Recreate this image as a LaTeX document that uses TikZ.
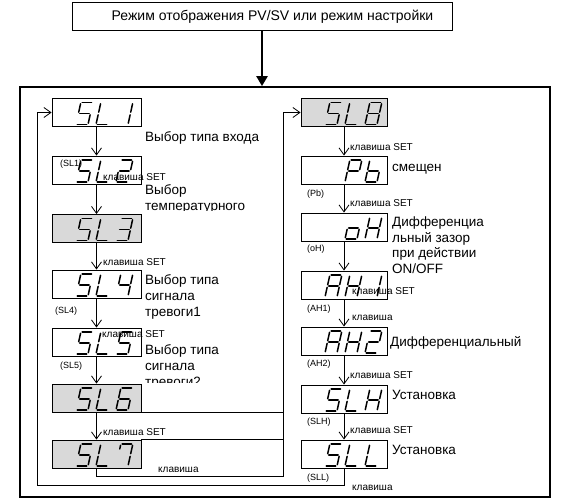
\documentclass[tikz,border=0pt]{standalone}
\usepackage{fontspec}
\setmainfont{Liberation Sans}
\usetikzlibrary{arrows.meta}
\tikzset{
 dispbox/.style={draw, line width=0.9pt, minimum width=89pt, minimum height=28pt, inner sep=0pt},
 rbox/.style={dispbox, minimum width=86pt},
 grey/.style={fill=gray!30},
 segline/.style={line width=1.5pt, line cap=round},
 big/.style={font=\fontsize{13.5}{15}\selectfont, inner sep=0pt, anchor=base west},
 keylbl/.style={font=\fontsize{10}{11}\selectfont, inner sep=0pt, anchor=base west},
 tag/.style={font=\fontsize{9}{10}\selectfont, inner sep=0pt, anchor=base west},
 arr/.style={line width=0.8pt, -{Straight Barb[length=7pt,width=10pt]}},
 conn/.style={line width=0.8pt},
}
\def\cS{a,f,g,c,d}
\def\cL{f,e,d}
\def\cOne{b,c}
\def\cTwo{a,b,g,e,d}
\def\cThree{a,b,g,c,d}
\def\cFour{f,g,b,c}
\def\cFive{a,f,g,c,d}
\def\cSix{a,f,g,e,d,c}
\def\cSeven{a,b,c,t}
\def\cEight{a,b,c,d,e,f,g}
\def\cP{a,b,f,g,e}
\def\cb{f,e,d,c,g}
\def\co{g,c,d,e}
\def\cH{f,e,b,c,g}
\def\cA{a,b,c,e,f,g}
\def\cN{x}
\newcommand\glyph[3]{\begin{scope}[shift={({#1},{#2})},xslant=0.22]
 \foreach \s in #3{%
 \if a\s \draw[segline] (1.3,-22) -- (10.7,-22);\fi
 \if b\s \draw[segline] (12,-20.7) -- (12,-12.3);\fi
 \if c\s \draw[segline] (12,-9.7) -- (12,-1.3);\fi
 \if d\s \draw[segline] (1.3,0) -- (10.7,0);\fi
 \if e\s \draw[segline] (0,-1.3) -- (0,-9.7);\fi
 \if f\s \draw[segline] (0,-12.3) -- (0,-20.7);\fi
 \if g\s \draw[segline] (1.3,-11) -- (10.7,-11);\fi
 \if t\s \draw[segline] (0,-17) -- (0,-20.7);\fi
 }\end{scope}}
\newcommand\dsp[5]{\glyph{#1+24}{#2}{#3}\glyph{#1+44}{#2}{#4}\glyph{#1+64}{#2}{#5}}
\begin{document}
\begin{tikzpicture}[x=1pt,y=-1pt]
\useasboundingbox (0,0) rectangle (567,500);
% top box and main arrow
\node[draw, line width=1pt, minimum width=380pt, minimum height=28pt, inner sep=0pt] (top) at (262,17) {};
\node[font=\fontsize{14}{16}\selectfont, inner sep=0pt] (toptxt) at (272.5,17) {Режим отображения PV/SV или режим настройки};
\node[draw, line width=1.8pt, minimum width=530pt, minimum height=410pt, inner sep=0pt] (outer) at (285,292) {};
\draw[line width=2.5pt, -{Triangle[length=10pt,width=11pt]}] (top.south) -- (top.south |- outer.north);
% left column boxes
\node[dispbox] (sl1) at (96.5,112.5) {};
\node[dispbox] (sl2) at (96.5,170) {};
\node[dispbox,grey] (sl3) at (96.5,228.5) {};
\node[dispbox] (sl4) at (96.5,284) {};
\node[dispbox] (sl5) at (96.5,342) {};
\node[dispbox,grey] (sl6) at (96.5,398) {};
\node[dispbox,grey] (sl7) at (96.5,454) {};
% right column boxes
\node[rbox,grey] (sl8) at (344,112.5) {};
\node[rbox] (pb) at (344,170) {};
\node[rbox] (oh) at (344,227) {};
\node[rbox] (ah1) at (344,285) {};
\node[rbox] (ah2) at (344,341) {};
\node[rbox] (slh) at (344,399) {};
\node[rbox] (sll) at (344,454) {};
% glyphs
\dsp{52}{124.5}{\cS}{\cL}{\cOne}
\dsp{52}{182}{\cS}{\cL}{\cTwo}
\dsp{52}{240.5}{\cS}{\cL}{\cThree}
\dsp{52}{296}{\cS}{\cL}{\cFour}
\dsp{52}{354}{\cS}{\cL}{\cFive}
\dsp{52}{410}{\cS}{\cL}{\cSix}
\dsp{52}{466}{\cS}{\cL}{\cSeven}
\dsp{301}{124.5}{\cS}{\cL}{\cEight}
\dsp{301}{182}{\cN}{\cP}{\cb}
\dsp{301}{239}{\cN}{\co}{\cH}
\dsp{301}{297}{\cA}{\cH}{\cOne}
\dsp{301}{353}{\cA}{\cH}{\cTwo}
\dsp{301}{411}{\cS}{\cL}{\cH}
\dsp{301}{466}{\cS}{\cL}{\cL}
% down arrows
\draw[arr] (sl1) -- (sl2);
\draw[arr] (sl2) -- (sl3);
\draw[arr] (sl3) -- (sl4);
\draw[arr] (sl4) -- (sl5);
\draw[arr] (sl5) -- (sl6);
\draw[arr] (sl6) -- (sl7);
\draw[arr] (sl8) -- (pb);
\draw[arr] (pb) -- (oh);
\draw[arr] (oh) -- (ah1);
\draw[arr] (ah1) -- (ah2);
\draw[arr] (ah2) -- (slh);
\draw[arr] (slh) -- (sll);
% loops
\coordinate (r1) at (283,476);
\coordinate (r2) at (37,485);
\draw[conn] (sl6.south east) -- (sl6.south east -| r1);
\draw[conn] (sl7.north east) -- (sl7.north east -| r1);
\draw[arr] (sl7.south) |- (r1) |- (sl8.west);
\draw[arr] (sll.south) |- (r2) |- (sl1.west);
% left texts
\node[big] (t1) at (145,141.5) {Выбор типа входа};
\node[big] (t2a) at (145,194.5) {Выбор};
\begin{scope}
\clip (140,195) rectangle (300,210);
\node[big] (t2b) at (145,210.5) {температурного};
\end{scope}
\node[big] (t4a) at (145,284.5) {Выбор типа};
\node[big] (t4b) at (145,300.5) {сигнала};
\node[big] (t4c) at (145,316) {тревоги1};
\node[big] (t5a) at (145,354.5) {Выбор типа};
\node[big] (t5b) at (145,370.5) {сигнала};
\begin{scope}
\clip (140,372) rectangle (300,382.5);
\node[big] (t5c) at (145,386.5) {тревоги2};
\end{scope}
% right texts
\node[big] (r8) at (392,171.5) {смещен};
\node[big] (ra) at (392,226.5) {Дифференциа};
\node[big] (rb) at (392,242) {льный зазор};
\node[big] (rc) at (392,257.5) {при действии};
\node[big] (rd) at (392,273) {ON/OFF};
\node[big] (re) at (390,346.5) {Дифференциальный};
\node[big] (rf) at (392,399.5) {Установка};
\node[big] (rg) at (392,454.5) {Установка};
% key labels
\node[keylbl] (k1) at (103,180.5) {клавиша SET};
\node[keylbl] (k2) at (103,265.5) {клавиша SET};
\node[keylbl] (k3) at (102,337.5) {клавиша SET};
\node[keylbl] (k4) at (103,435.5) {клавиша SET};
\node[keylbl] (k5) at (158,472.5) {клавиша};
\node[keylbl] (k6) at (350,150.5) {клавиша SET};
\node[keylbl] (k7) at (350,206.5) {клавиша SET};
\begin{scope}
\clip (345,280) rectangle (420,293.8);
\node[keylbl] (k8) at (352,294.5) {клавиша SET};
\end{scope}
\node[keylbl] (k9) at (352,320.5) {клавиша};
\node[keylbl] (k10) at (350,378.5) {клавиша SET};
\node[keylbl] (k11) at (350,433.5) {клавиша SET};
\node[keylbl] (k12) at (352,490.5) {клавиша};
% tags
\node[tag] (g1) at (60,166.5) {(SL1)};
\node[tag] (g4) at (55,313.5) {(SL4)};
\node[tag] (g5) at (60,368.5) {(SL5)};
\node[tag] (gpb) at (307,196.5) {(Pb)};
\node[tag] (goh) at (307,251.5) {(oH)};
\node[tag] (ga1) at (307,311.5) {(AH1)};
\node[tag] (ga2) at (307,366.5) {(AH2)};
\node[tag] (gsh) at (307,424.5) {(SLH)};
\node[tag] (gsl) at (307,480.5) {(SLL)};
\end{tikzpicture}
\end{document}
